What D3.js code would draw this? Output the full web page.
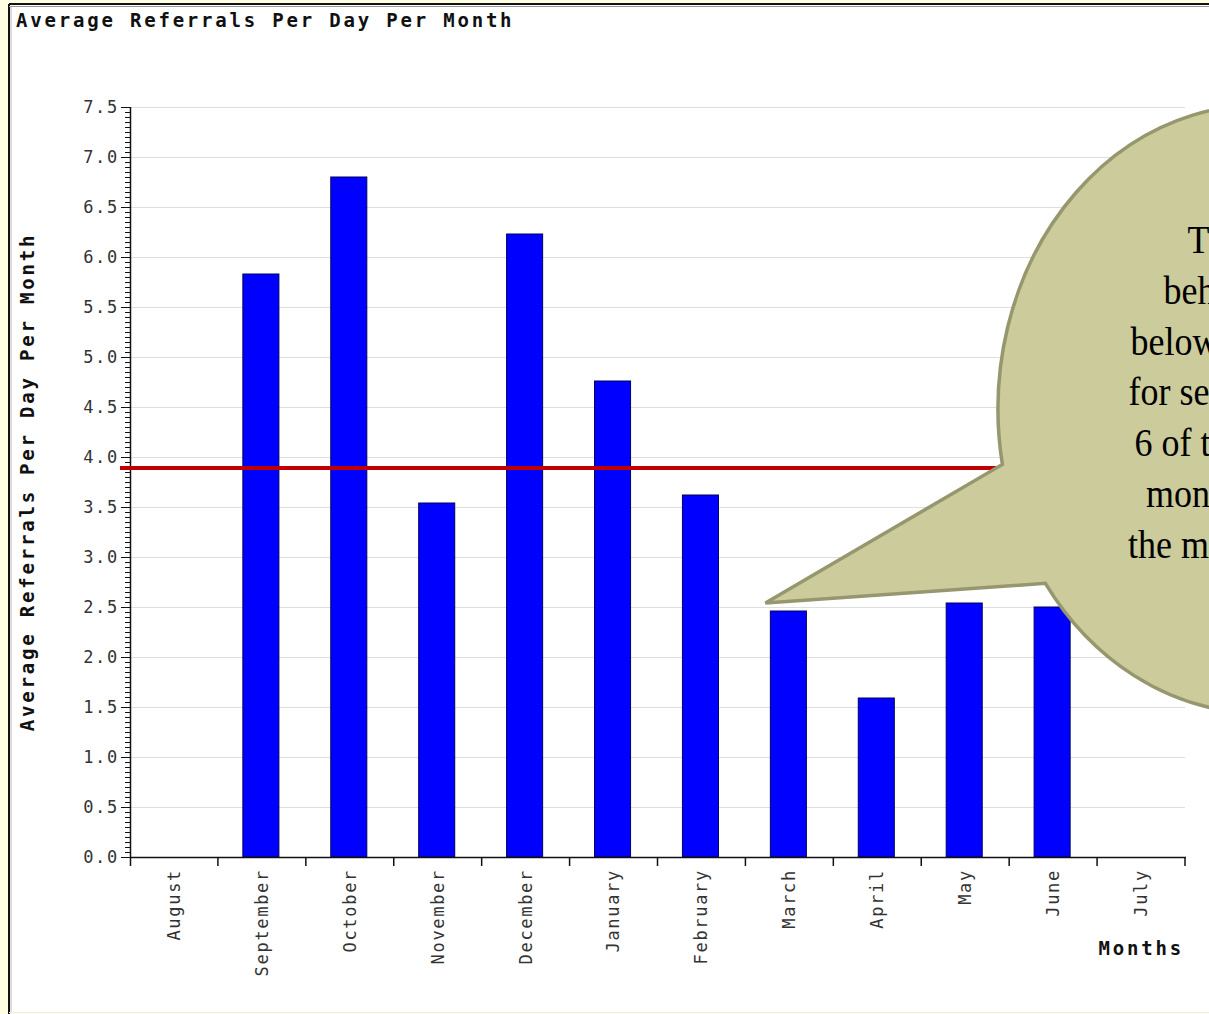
<!DOCTYPE html>
<html>
<head>
<meta charset="utf-8">
<script src="https://cdn.jsdelivr.net/npm/d3@7"></script>
<style>
  html, body { margin: 0; padding: 0; background: #fffde2; }
  svg { display: block; }
</style>
</head>
<body>
<svg id="chart" width="1209" height="1014"></svg>
<script>
// Average referrals per day, by month of the year
const months = ["August", "September", "October", "November", "December", "January",
                "February", "March", "April", "May", "June", "July"];
const referrals = [0, 5.83, 6.80, 3.54, 6.23, 4.76, 3.62, 2.46, 1.59, 2.54, 2.50, 0];
const referenceLevel = 3.89;
const yTickValues = [0, 0.5, 1.0, 1.5, 2.0, 2.5, 3.0, 3.5, 4.0, 4.5, 5.0, 5.5, 6.0, 6.5, 7.0, 7.5];
const yMinorTickValues = d3.range(0, 7.5001, 0.05);
const calloutLines = ["The average", "behaviour stays", "below the mean line", "for several months –",
                      "6 of the last twelve,", "months, including", "the most recent four."];

const titleText = "Average Referrals Per Day Per Month";
const yLabelText = "Average Referrals Per Day Per Month";
const xLabelText = "Months";

const svg = d3.select("#chart");
const monoFont = "'DejaVu Sans Mono', 'Liberation Mono', monospace";

// panel frame
svg.append("rect").attr("x", 9).attr("y", 4).attr("width", 1300).attr("height", 1008)
  .attr("fill", "#ffffff");
svg.append("line").attr("x1", 9).attr("x2", 9).attr("y1", 4).attr("y2", 1014)
  .attr("stroke", "#111").attr("stroke-width", 2);
svg.append("line").attr("x1", 11).attr("x2", 11).attr("y1", 6).attr("y2", 1012)
  .attr("stroke", "#bbb").attr("stroke-width", 1);
svg.append("line").attr("x1", 9).attr("x2", 1209).attr("y1", 4).attr("y2", 4)
  .attr("stroke", "#111").attr("stroke-width", 2);
svg.append("line").attr("x1", 9).attr("x2", 1209).attr("y1", 6.5).attr("y2", 6.5)
  .attr("stroke", "#999").attr("stroke-width", 1);
svg.append("line").attr("x1", 9).attr("x2", 1209).attr("y1", 1012.5).attr("y2", 1012.5)
  .attr("stroke", "#eee").attr("stroke-width", 1);

// title
svg.append("text").attr("x", 16).attr("y", 27)
  .attr("font-family", monoFont).attr("font-weight", "bold").attr("font-size", 19)
  .attr("letter-spacing", 2.8).attr("fill", "#111")
  .text(titleText);

const plot = { left: 130, right: 1185, top: 107, bottom: 857 };

const x = d3.scaleBand().domain(months).range([plot.left, plot.right]).paddingInner(0).paddingOuter(0);
const y = d3.scaleLinear().domain([0, 7.5]).range([plot.bottom, plot.top]);

// horizontal grid
svg.append("g").selectAll("line").data(yTickValues.filter(d => d > 0)).join("line")
  .attr("x1", plot.left).attr("x2", plot.right)
  .attr("y1", d => y(d) + 0.5).attr("y2", d => y(d) + 0.5)
  .attr("stroke", "#dedede").attr("stroke-width", 1);

// bars
const barFrac = 0.41;
svg.append("g").selectAll("rect")
  .data(months.map((m, i) => ({ month: m, value: referrals[i] })).filter(d => d.value > 0))
  .join("rect")
  .attr("x", d => x(d.month) + x.bandwidth() * (1 - barFrac) / 2 - 1)
  .attr("y", d => y(d.value))
  .attr("width", x.bandwidth() * barFrac)
  .attr("height", d => y(0) - y(d.value))
  .attr("fill", "#0000ff")
  .attr("stroke", "#000060").attr("stroke-width", 1);

// minor y ticks
const yMinor = svg.append("g").attr("transform", `translate(${plot.left},0)`)
  .call(d3.axisLeft(y).tickValues(yMinorTickValues).tickSize(5).tickFormat(""));
yMinor.select(".domain").remove();
yMinor.selectAll("line").attr("stroke", "#111");

// major y axis
const yAxis = svg.append("g").attr("transform", `translate(${plot.left},0)`)
  .call(d3.axisLeft(y).tickValues(yTickValues).tickSize(9).tickPadding(2).tickFormat(d3.format(".1f")));
yAxis.select(".domain").remove();
yAxis.selectAll("line").attr("stroke", "#111");
yAxis.selectAll("text").attr("font-family", monoFont).attr("font-size", 17)
  .attr("letter-spacing", 1.7).attr("fill", "#333");
svg.append("line").attr("x1", plot.left + 0.5).attr("x2", plot.left + 0.5)
  .attr("y1", plot.top).attr("y2", plot.bottom + 9)
  .attr("stroke", "#111").attr("stroke-width", 1.5);

// x axis line and category separators
svg.append("line").attr("x1", plot.left).attr("x2", plot.right + 1)
  .attr("y1", plot.bottom + 0.5).attr("y2", plot.bottom + 0.5)
  .attr("stroke", "#111").attr("stroke-width", 1.5);
svg.append("g").selectAll("line").data(months).join("line")
  .attr("x1", d => x(d) + x.bandwidth()).attr("x2", d => x(d) + x.bandwidth())
  .attr("y1", plot.bottom).attr("y2", plot.bottom + 9)
  .attr("stroke", "#111").attr("stroke-width", 1.5);

const xAxis = svg.append("g").attr("transform", `translate(0,${plot.bottom})`)
  .call(d3.axisBottom(x).tickSize(0).tickPadding(0));
xAxis.select(".domain").remove();
xAxis.selectAll("text")
  .attr("transform", "rotate(-90)")
  .attr("text-anchor", "end")
  .attr("x", -12).attr("y", 0).attr("dy", "0.35em")
  .attr("font-family", monoFont).attr("font-size", 17)
  .attr("letter-spacing", 1.7).attr("fill", "#333");

// axis titles
svg.append("text")
  .attr("transform", `translate(34,${(plot.top + plot.bottom) / 2}) rotate(-90)`)
  .attr("text-anchor", "middle")
  .attr("font-family", monoFont).attr("font-weight", "bold").attr("font-size", 19)
  .attr("letter-spacing", 2.8).attr("fill", "#111")
  .text(yLabelText);
svg.append("text").attr("x", plot.right - 1).attr("y", 955)
  .attr("text-anchor", "end")
  .attr("font-family", monoFont).attr("font-weight", "bold").attr("font-size", 19)
  .attr("letter-spacing", 2.8).attr("fill", "#111")
  .text(xLabelText);

// reference level line
svg.append("line").attr("x1", plot.left - 10).attr("x2", plot.right)
  .attr("y1", y(referenceLevel)).attr("y2", y(referenceLevel))
  .attr("stroke", "#c00000").attr("stroke-width", 4);

// speech-bubble callout pointing at the March bar
const ell = { cx: 1260, cy: 409, rx: 262, ry: 304 };
const pt = deg => {
  const a = deg * Math.PI / 180;
  return [ell.cx + ell.rx * Math.cos(a), ell.cy + ell.ry * Math.sin(a)];
};
const p1 = pt(169.5), p2 = pt(145);
const tip = [x("March") + 20, y(2.54)];
const bubble = `M${p1[0]},${p1[1]} A${ell.rx},${ell.ry} 0 1 1 ${p2[0]},${p2[1]} L${tip[0]},${tip[1]} Z`;
svg.append("path").attr("d", bubble)
  .attr("fill", "#cbcb9b").attr("stroke", "#97976f").attr("stroke-width", 3.5)
  .attr("stroke-linejoin", "miter");

// callout text, slightly tall glyphs
svg.append("g").selectAll("text").data(calloutLines).join("text")
  .attr("transform", (d, i) => `translate(1276,${253 + i * 50.8}) scale(1,1.14)`)
  .attr("text-anchor", "middle")
  .attr("font-family", "'Liberation Serif', 'Times New Roman', serif")
  .attr("font-size", 36).attr("fill", "#000")
  .text(d => d);
</script>
</body>
</html>
